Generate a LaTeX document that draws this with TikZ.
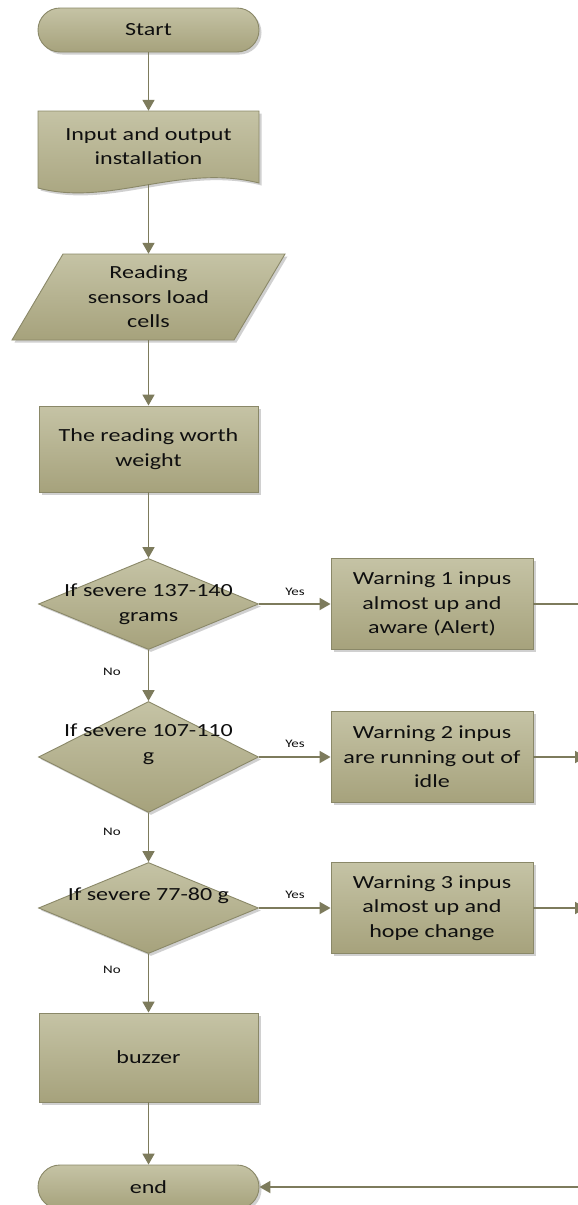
\documentclass[tikz,border=0pt]{standalone}
\usepackage{fontspec}
\setmainfont{Carlito}[FakeStretch=1.3]
\usetikzlibrary{shapes.geometric,arrows.meta,shadows}
\definecolor{ftop}{RGB}{197,195,165}
\definecolor{fbot}{RGB}{166,162,124}
\definecolor{bordc}{RGB}{138,136,104}
\definecolor{linec}{RGB}{125,123,92}
\definecolor{txt}{RGB}{15,15,15}
\tikzset{
  shapefill/.style={draw=bordc, line width=0.9pt, top color=ftop, bottom color=fbot,
    drop shadow={shadow xshift=2.5pt, shadow yshift=-2.5pt, fill=black!30, opacity=0.6}},
  box/.style={shapefill, align=center, inner sep=0pt, text=txt,
    font=\fontsize{18.5}{24.5}\selectfont},
  txtonly/.style={align=center, inner sep=0pt, text=txt, font=\fontsize{18.5}{24.5}\selectfont},
  term/.style={box, rounded corners=22pt, minimum width=221pt, minimum height=44pt},
  proc/.style={box, minimum width=219pt},
  warn/.style={box, minimum width=202pt, minimum height=91pt},
  dia/.style={box, diamond, minimum width=220pt, minimum height=91pt},
  conn/.style={draw=linec, line width=1.8pt, -{Triangle[width=12pt,length=11pt]}},
  plain/.style={draw=linec, line width=1.8pt},
  lbl/.style={text=txt, inner sep=0pt, font=\fontsize{11.5}{13}\selectfont},
}
\begin{document}
\begin{tikzpicture}[x=1pt,y=-1pt]
\clip (0,0) rectangle (578,1205);
\fill[white] (0,0) rectangle (578,1205);
% start
\node[term] (start) at (148.5,30) {Start};
% input / output document shape
\path[shapefill] (38,111) -- (259,111) -- (259,183)
  .. controls (180,163) and (110,207) .. (38,188) -- cycle;
\node[txtonly, minimum width=221pt, minimum height=70pt] (inp) at (148.5,146) {Input and output\\installation};
\coordinate (inpb) at (148.5,184);
% parallelogram
\path[shapefill] (63,254) -- (285,254) -- (234,340) -- (12,340) -- cycle;
\node[txtonly, minimum width=170pt, minimum height=86pt] (par) at (148.5,297) {Reading\\sensors load\\cells};
% process
\node[proc, minimum height=86pt] (rw) at (148.5,449) {The reading worth\\weight};
% decisions
\node[dia] (d1) at (148.5,604) {};
\node[txtonly] at (148.5,604) {If severe 137-140\\grams};
\node[dia, minimum height=111pt] (d2) at (148.5,757) {};
\node[txtonly] at (148.5,744) {If severe 107-110\\g};
\node[dia] (d3) at (148.5,908) {};
\node[txtonly] at (148.5,896) {If severe 77-80 g};
% warnings
\node[warn] (w1) at (432,604) {Warning 1 inpus\\almost up and\\aware (Alert)};
\node[warn] (w2) at (432,757) {Warning 2 inpus\\are running out of\\idle};
\node[warn] (w3) at (432,908) {Warning 3 inpus\\almost up and\\hope change};
% buzzer
\node[proc, minimum height=89pt] (buz) at (148.5,1057.5) {buzzer};
% end
\node[term] (end) at (148.5,1187) {end};
% off-picture coordinates
\coordinate (o1) at (578,604);
\coordinate (o2) at (586,757);
\coordinate (o3) at (586,908);
\coordinate (o4) at (600,1187);
% connectors
\draw[conn] (start) -- (inp.north);
\draw[conn] (inpb) -- (par.north);
\draw[conn] (par.south) -- (rw.north);
\draw[conn] (rw.south) -- (d1.north);
\draw[conn] (d1.south) -- (d2.north);
\draw[conn] (d2.south) -- (d3.north);
\draw[conn] (d3.south) -- (buz.north);
\draw[conn] (buz.south) -- (end.north);
\draw[conn] (d1.east) -- (w1.west);
\draw[conn] (d2.east) -- (w2.west);
\draw[conn] (d3.east) -- (w3.west);
\draw[plain] (w1.east) -- (o1);
\draw[conn] (w2.east) -- (o2);
\draw[conn] (w3.east) -- (o3);
\draw[conn] (o4) -- (end.east);
% labels
\node[lbl] (y1) at (295,592) {Yes};
\node[lbl] (y2) at (295,744) {Yes};
\node[lbl] (y3) at (295,895) {Yes};
\node[lbl] (n1) at (112,672) {No};
\node[lbl] (n2) at (112,832) {No};
\node[lbl] (n3) at (112,970) {No};
\end{tikzpicture}
\end{document}
